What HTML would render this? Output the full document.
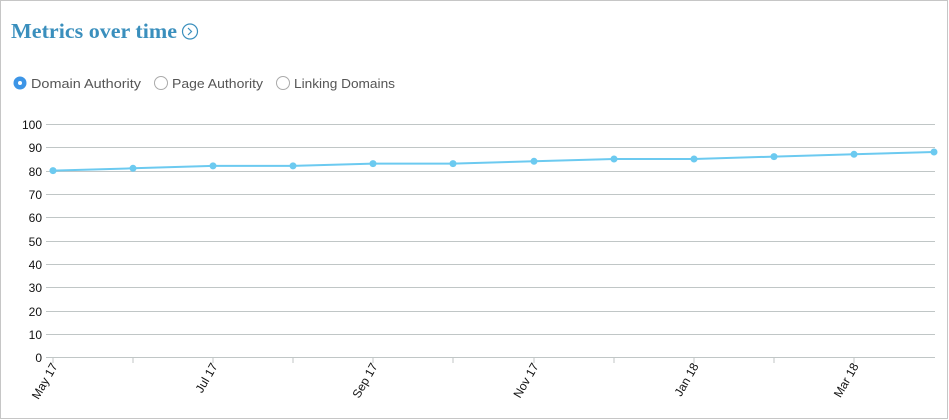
<!DOCTYPE html>
<html><head><meta charset="utf-8"><style>
html,body{margin:0;padding:0;background:#fff;}
body{width:949px;height:420px;overflow:hidden;position:relative;font-family:"Liberation Sans",sans-serif;}
.box{position:absolute;left:0;top:0;width:946px;height:417px;border:1px solid #c6c6c6;}
</style></head><body>
<div class="box"></div>
<svg width="949" height="420" style="position:absolute;left:0;top:0" font-family="Liberation Sans, sans-serif">
<text x="11" y="38" font-family="Liberation Serif, serif" font-weight="bold" font-size="21" fill="#3a8fbd" textLength="166" lengthAdjust="spacingAndGlyphs">Metrics over time</text>
<circle cx="190" cy="31.5" r="7.5" fill="none" stroke="#3a8fbd" stroke-width="1.2"/>
<path d="M188 28 L191.5 31.5 L188 35" fill="none" stroke="#3a8fbd" stroke-width="1.2"/>
<circle cx="20" cy="83" r="6.5" fill="#3d95e6"/>
<circle cx="20" cy="83" r="2" fill="#fff"/>
<text x="31" y="88" font-size="13" fill="#555" textLength="110" lengthAdjust="spacingAndGlyphs">Domain Authority</text>
<circle cx="161" cy="83" r="6.5" fill="#fff" stroke="#aaa"/>
<text x="172" y="88" font-size="13" fill="#555" textLength="91" lengthAdjust="spacingAndGlyphs">Page Authority</text>
<circle cx="283" cy="83" r="6.5" fill="#fff" stroke="#aaa"/>
<text x="294" y="88" font-size="13" fill="#555" textLength="101" lengthAdjust="spacingAndGlyphs">Linking Domains</text>
<g stroke="#c0c6c6" stroke-width="1">
<line x1="46" x2="935" y1="124.5" y2="124.5"/>
<line x1="46" x2="935" y1="147.5" y2="147.5"/>
<line x1="46" x2="935" y1="171.5" y2="171.5"/>
<line x1="46" x2="935" y1="194.5" y2="194.5"/>
<line x1="46" x2="935" y1="217.5" y2="217.5"/>
<line x1="46" x2="935" y1="241.5" y2="241.5"/>
<line x1="46" x2="935" y1="264.5" y2="264.5"/>
<line x1="46" x2="935" y1="287.5" y2="287.5"/>
<line x1="46" x2="935" y1="311.5" y2="311.5"/>
<line x1="46" x2="935" y1="334.5" y2="334.5"/>
<line x1="46" x2="935" y1="357.5" y2="357.5"/>
<line x1="53" x2="53" y1="357" y2="363"/><line x1="133" x2="133" y1="357" y2="363"/>
<line x1="213" x2="213" y1="357" y2="363"/><line x1="293" x2="293" y1="357" y2="363"/>
<line x1="373" x2="373" y1="357" y2="363"/><line x1="453" x2="453" y1="357" y2="363"/>
<line x1="534" x2="534" y1="357" y2="363"/><line x1="614" x2="614" y1="357" y2="363"/>
<line x1="694" x2="694" y1="357" y2="363"/><line x1="774" x2="774" y1="357" y2="363"/>
<line x1="854" x2="854" y1="357" y2="363"/>
</g>
<g font-size="12" fill="#111" text-anchor="end">
<text x="42" y="129">100</text><text x="42" y="152">90</text><text x="42" y="176">80</text>
<text x="42" y="199">70</text><text x="42" y="222">60</text><text x="42" y="246">50</text>
<text x="42" y="269">40</text><text x="42" y="292">30</text><text x="42" y="316">20</text>
<text x="42" y="339">10</text><text x="42" y="362">0</text>
<text transform="translate(58,366) rotate(-60)">May 17</text>
<text transform="translate(218,366) rotate(-60)">Jul 17</text>
<text transform="translate(378,366) rotate(-60)">Sep 17</text>
<text transform="translate(539,366) rotate(-60)">Nov 17</text>
<text transform="translate(699,366) rotate(-60)">Jan 18</text>
<text transform="translate(859,366) rotate(-60)">Mar 18</text>
</g>
<polyline fill="none" stroke="#6ccaf0" stroke-width="2" points="53,170.6 133,168.3 213,165.9 293,165.9 373,163.6 453,163.6 534,161.3 614,159 694,159 774,156.6 854,154.3 934,152"/>
<g fill="#6ccaf0">
<circle cx="53" cy="170.6" r="3.5"/><circle cx="133" cy="168.3" r="3.5"/><circle cx="213" cy="165.9" r="3.5"/>
<circle cx="293" cy="165.9" r="3.5"/><circle cx="373" cy="163.6" r="3.5"/><circle cx="453" cy="163.6" r="3.5"/>
<circle cx="534" cy="161.3" r="3.5"/><circle cx="614" cy="159" r="3.5"/><circle cx="694" cy="159" r="3.5"/>
<circle cx="774" cy="156.6" r="3.5"/><circle cx="854" cy="154.3" r="3.5"/><circle cx="934" cy="152" r="3.5"/>
</g>
</svg>
</body></html>
